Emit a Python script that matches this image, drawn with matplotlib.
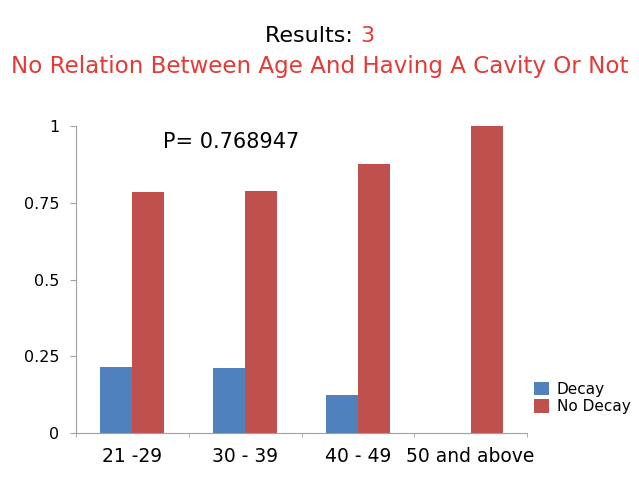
import matplotlib
matplotlib.use("Agg")
import matplotlib.pyplot as plt
import numpy as np

categories = ["21 -29", "30 - 39", "40 - 49", "50 and above"]
decay = [0.2143, 0.2105, 0.125, 0.0]
no_decay = [0.7857, 0.7895, 0.875, 1.0]
yticks = [0, 0.25, 0.5, 0.75, 1]
ytick_labels = ["0", "0.25", "0.5", "0.75", "1"]

plt.rcParams['font.family'] = ['DejaVu Sans']

fig = plt.figure(figsize=(6.39, 4.79), dpi=100)
ax = fig.add_axes([76/639, 1-433/479, (527-76)/639, (433-126)/479])

x = np.arange(len(categories))
w = 0.283
ax.bar(x - w/2, decay, w, color="#4F81BD", label="Decay")
ax.bar(x + w/2, no_decay, w, color="#C0504D", label="No Decay")

ax.set_xlim(-0.5, len(categories) - 0.5)
ax.set_ylim(0, 1)
ax.set_yticks(yticks)
ax.set_yticklabels(ytick_labels, fontsize=11.5)
ax.set_xticks(x)
ax.set_xticklabels(categories, fontsize=13.5)
ax.set_xticks(np.arange(-0.5, len(categories), 1), minor=True)
ax.tick_params(axis='x', which='major', length=0, pad=10)
ax.tick_params(axis='x', which='minor', length=3, color='#A0A0A0')
ax.tick_params(axis='y', length=4, color='#A0A0A0', pad=8)

for s in ['top', 'right']:
    ax.spines[s].set_visible(False)
for s in ['left', 'bottom']:
    ax.spines[s].set_color('#A0A0A0')

ax.text(231/639, 1-142/479, "P= 0.768947", transform=fig.transFigure, fontsize=15,
        va='center', ha='center')

red = '#E33B35'
fig.canvas.draw()
r = fig.canvas.get_renderer()
tmp1 = fig.text(0, 0, "Results: ", fontsize=16)
tmp2 = fig.text(0, 0, "3", fontsize=16)
bb1 = tmp1.get_window_extent(r)
bb2 = tmp2.get_window_extent(r)
tmp1.remove()
tmp2.remove()
total = bb1.width + bb2.width
x0 = (639 - total) / 2
fig.text(x0/639, 1-36/479, "Results: ", fontsize=16, ha='left', va='center', color='black')
fig.text((x0 + bb1.width)/639, 1-36/479, "3", fontsize=16, ha='left', va='center', color=red)
fig.text(0.5, 1-67/479, "No Relation Between Age And Having A Cavity Or Not", fontsize=16.6,
         ha='center', va='center', color=red)

leg = fig.legend(loc='upper left', bbox_to_anchor=(520/639, 1-368/479), frameon=False,
                 fontsize=11, handlelength=1.0, handleheight=1.0, handletextpad=0.5,
                 labelspacing=0.15)

fig.savefig("out.png", dpi=100)
